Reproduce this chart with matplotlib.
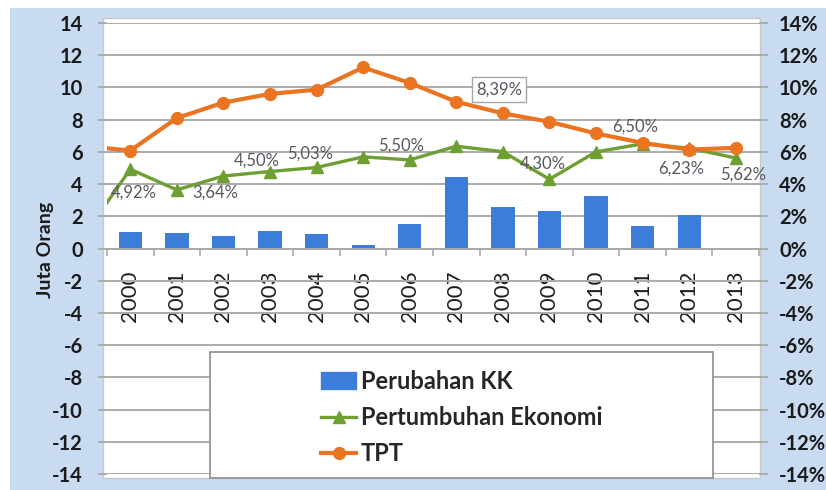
import numpy as np
import matplotlib
matplotlib.use("Agg")
import matplotlib.pyplot as plt
from matplotlib.patches import Rectangle
from matplotlib.lines import Line2D

plt.rcParams["font.family"] = ["Lato", "DejaVu Sans"]
plt.rcParams["axes.unicode_minus"] = False

# ===== Data =====
years = ["2000", "2001", "2002", "2003", "2004", "2005", "2006",
         "2007", "2008", "2009", "2010", "2011", "2012", "2013"]
# the lines start at 1999 (cut off by the plot edge, as in the original)
line_years = ["1999"] + years
kk_change = [1.0, 0.95, 0.8, 1.1, 0.9, 0.2, 1.5, 4.45, 2.6, 2.3, 3.25, 1.4, 2.1, 0.0]
growth = [0.79, 4.92, 3.64, 4.50, 4.78, 5.03, 5.69, 5.50, 6.35, 6.01, 4.30, 6.00, 6.50, 6.23, 5.62]
tpt = [6.36, 6.08, 8.10, 9.06, 9.60, 9.86, 11.24, 10.28, 9.11, 8.39, 7.87, 7.14, 6.56, 6.14, 6.25]
y_ticks = list(range(-14, 15, 2))

label_texts = ["4,92%", "3,64%", "4,50%", "5,03%", "5,50%", "8,39%",
               "4,30%", "6,50%", "6,23%", "5,62%"]
label_series = ["g", "g", "g", "g", "g", "t", "g", "g", "g", "g"]
label_years = ["2000", "2001", "2002", "2004", "2006", "2008",
               "2009", "2011", "2012", "2013"]
# pixel offsets of each label from its point
label_offsets = [(3, -23), (38, -3), (33, 15), (-6, 14), (-9, 14), (-4, 24),
                 (-7, 16), (-7, 17), (-8, -20), (7, -17)]

BAR = "#3C7DD9"
GREEN = "#6E9F32"
ORANGE = "#EA7420"
GRID = "#ababab"

W, H = 826, 490
def fx(px):
    return px / W
def fy(py):
    return 1 - py / H

fig = plt.figure(figsize=(W / 100, H / 100), dpi=100)

# background panels
fig.patches.append(Rectangle((fx(10), 0), 1 - fx(10), fy(8), transform=fig.transFigure,
                             facecolor="#c9dbf1", edgecolor="none", zorder=-3))
fig.patches.append(Rectangle((fx(103), fy(478)), fx(760) - fx(103), fy(18) - fy(478),
                             transform=fig.transFigure, facecolor="white",
                             edgecolor="#c8c8c8", lw=1, zorder=-2))

ax = fig.add_axes([fx(107), fy(474), fx(759) - fx(107), fy(23) - fy(474)])
ax.patch.set_visible(False)
x = np.arange(len(years))
xl = np.arange(len(line_years)) - 1

ax.bar(x, kk_change, width=0.5, color=BAR, zorder=2)
ax.set_xlim(-0.5, len(years) - 0.5)
ax.set_ylim(-14, 14)
ax.set_yticks(y_ticks)
ax.grid(axis="y", color=GRID, lw=1.4, zorder=0)
for s in ["top", "right", "left"]:
    ax.spines[s].set_visible(False)
ax.spines["bottom"].set_position(("data", 0))
ax.spines["bottom"].set_color(GRID)
ax.spines["bottom"].set_linewidth(1.4)
ax.set_xticks(x)
ax.set_xticklabels(years, rotation=90, fontsize=16, color="#1e1e1e")
ax.set_xticks(np.arange(-0.5, len(years), 1), minor=True)
ax.tick_params(axis="x", which="major", length=0, pad=16)
ax.tick_params(axis="x", which="minor", length=5, width=1.2, color=GRID)
ax.tick_params(axis="y", length=6.5, width=1.4, color=GRID, pad=11,
               labelsize=14.5, labelcolor="#1a1a1a")
for t in ax.get_yticklabels():
    t.set_fontweight("bold")

ax2 = ax.twinx()
ax2.patch.set_visible(False)
ax2.set_ylim(-14, 14)
ax2.set_yticks(y_ticks)
ax2.set_yticklabels([f"{v}%" for v in y_ticks], fontweight="bold")
ax2.tick_params(axis="y", length=6.5, width=1.4, color=GRID, pad=8,
                labelsize=14.5, labelcolor="#1a1a1a")
for s in ax2.spines.values():
    s.set_visible(False)

ax2.plot(xl, growth, color=GREEN, lw=2.4, marker="^", markersize=9, zorder=3)
ax2.plot(xl, tpt, color=ORANGE, lw=3, marker="o", markersize=8.5, zorder=4)

for txt, ser, yr, off in zip(label_texts, label_series, label_years, label_offsets):
    i = line_years.index(yr)
    val = growth[i] if ser == "g" else tpt[i]
    box = None
    if txt == "8,39%":
        box = dict(boxstyle="square,pad=0.25", fc="white", ec="#a6a6a6", lw=1)
    ax2.annotate(txt, (xl[i], val), xytext=off, textcoords="offset pixels",
                 ha="center", va="center", fontsize=12, color="#55585f",
                 bbox=box, zorder=6)

fig.text(fx(45), fy(250), "Juta Orang", rotation=90, ha="center", va="center",
         fontsize=14, fontweight="bold", color="#1a1a1a")

# legend
fig.patches.append(Rectangle((fx(210), fy(478)), fx(713) - fx(210), fy(352) - fy(478),
                             transform=fig.transFigure, facecolor="white",
                             edgecolor="#8c8c8c", lw=1.2, zorder=3))
handles = [Rectangle((0, 0), 1, 1, color=BAR),
           Line2D([], [], color=GREEN, lw=2.4, marker="^", markersize=9),
           Line2D([], [], color=ORANGE, lw=3, marker="o", markersize=8.5)]
fig.legend(handles, ["Perubahan KK", "Pertumbuhan Ekonomi", "TPT"],
           loc="upper left", bbox_to_anchor=(fx(309), fy(358)), frameon=False,
           prop={"family": ["Lato", "DejaVu Sans"], "weight": "bold", "size": 17},
           labelcolor="#262626", labelspacing=0.55, handlelength=1.5,
           handletextpad=0.2, borderpad=0)

fig.savefig("out.png", dpi=100)
